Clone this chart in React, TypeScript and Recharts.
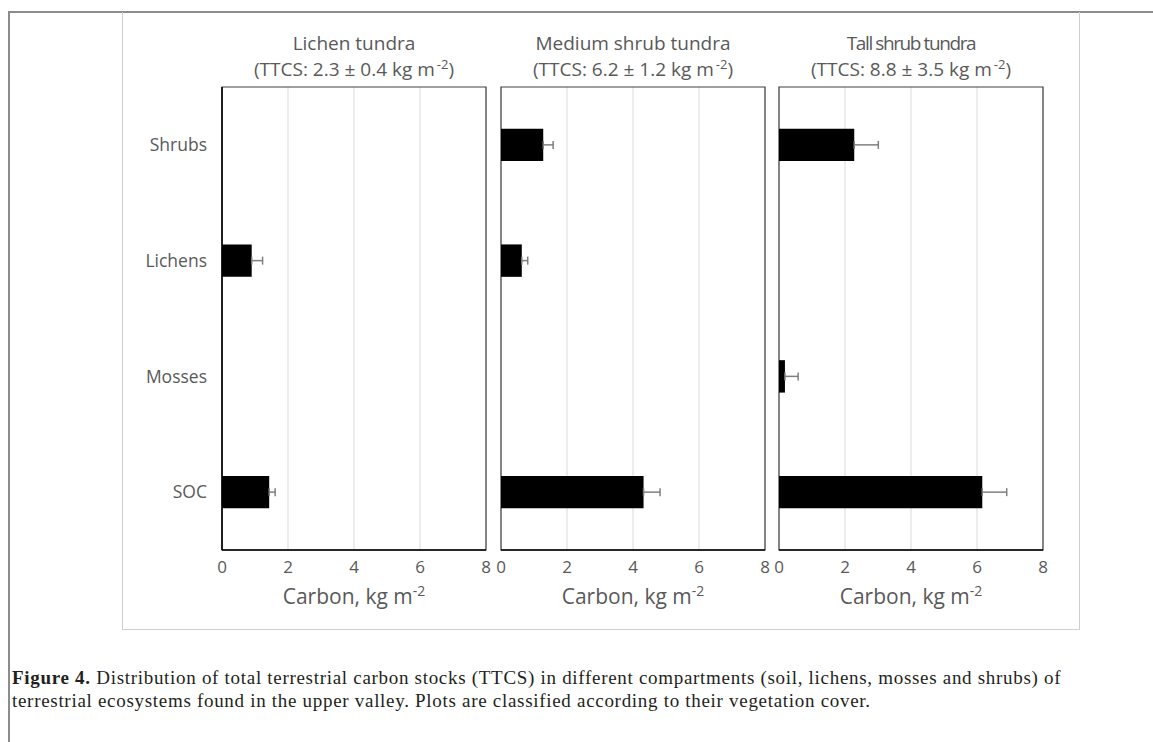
import React from 'react';
import { BarChart, Bar, XAxis, YAxis, CartesianGrid, ErrorBar, ReferenceArea } from 'recharts';

const categories = ['Shrubs', 'Lichens', 'Mosses', 'SOC'];

const lichenTundra = [0, 0.9, 0, 1.43];
const lichenTundraErr = [null, 0.33, null, 0.18];

const mediumShrubTundra = [1.28, 0.63, 0, 4.32];
const mediumShrubTundraErr = [0.3, 0.18, null, 0.5];

const tallShrubTundra = [2.28, 0, 0.18, 6.16];
const tallShrubTundraErr = [0.73, null, 0.4, 0.74];

const xTicks = [0, 2, 4, 6, 8];

const panelTitles = ['Lichen tundra', 'Medium shrub tundra', 'Tall shrub tundra'];
const panelTtcs = ['2.3 ± 0.4', '6.2 ± 1.2', '8.8 ± 3.5'];

const FONT = '"Open Sans", sans-serif';
const GREY_TEXT = '#595959';

const buildRows = (values: number[], errs: (number | null)[]) =>
  categories.map((name, i) => ({
    name,
    value: values[i],
    err: errs[i] != null ? [0, errs[i]] : null,
  }));

const panels = [
  { rows: buildRows(lichenTundra, lichenTundraErr), plotLeft: 222, showY: true },
  { rows: buildRows(mediumShrubTundra, mediumShrubTundraErr), plotLeft: 501, showY: false },
  { rows: buildRows(tallShrubTundra, tallShrubTundraErr), plotLeft: 779, showY: false },
];

const PLOT_W = 264;
const PLOT_TOP = 87;
const CHART_H = 629;
const X_AXIS_H = 70;
const M_BOTTOM = CHART_H - 550 - X_AXIS_H;
const M_SIDE = 6;

function Panel({ rows, plotLeft, showY, idx }: any) {
  const yWidth = showY ? 100 : 0;
  const left = plotLeft - yWidth - M_SIDE;
  const width = yWidth + M_SIDE * 2 + PLOT_W;
  const center = plotLeft + PLOT_W / 2;

  return (
    <>
      <div
        style={{
          position: 'absolute',
          left: center - 150,
          width: 300,
          top: 30,
          textAlign: 'center',
          fontFamily: FONT,
          fontSize: 19,
          lineHeight: '26px',
          color: GREY_TEXT,
          whiteSpace: 'nowrap',
        }}
      >
        <div style={{ letterSpacing: idx === 2 ? -1.4 : 0 }}>{panelTitles[idx]}</div>
        <div>
          (TTCS: {panelTtcs[idx]} kg m
          <span style={{ fontSize: 13, verticalAlign: 'super', lineHeight: 0, marginLeft: 2 }}>-2</span>)
        </div>
      </div>

      <div style={{ position: 'absolute', left, top: 0 }}>
        <BarChart
          width={width}
          height={CHART_H}
          data={rows}
          layout="vertical"
          margin={{ top: PLOT_TOP, right: M_SIDE, bottom: M_BOTTOM, left: M_SIDE }}
          barCategoryGap="64%"
        >
          <CartesianGrid horizontal={false} stroke="#d9d9d9" />
          <XAxis
            type="number"
            domain={[0, 8]}
            ticks={xTicks}
            height={X_AXIS_H}
            tickLine={false}
            tickSize={8}
            tickMargin={3}
            axisLine={{ stroke: '#000', strokeWidth: 1.5 }}
            tick={{ fill: GREY_TEXT, fontSize: 17, fontFamily: FONT }}
            allowDataOverflow
          />
          <YAxis
            type="category"
            dataKey="name"
            width={yWidth}
            tickLine={false}
            tick={showY ? { fill: GREY_TEXT, fontSize: 17.5, fontFamily: FONT } : false}
            tickSize={8}
            tickMargin={7}
            axisLine={{ stroke: '#000', strokeWidth: 1.5 }}
          />
          <ReferenceArea x1={0} x2={8} fill="none" stroke="#404040" strokeWidth={1.2} />
          <Bar dataKey="value" fill="#000" isAnimationActive={false}>
            <ErrorBar dataKey="err" direction="x" width={4} stroke="#7f7f7f" strokeWidth={1.5} isAnimationActive={false} />
          </Bar>
        </BarChart>
      </div>

      <div
        style={{
          position: 'absolute',
          left: center - 150,
          width: 300,
          top: 584,
          textAlign: 'center',
          fontFamily: FONT,
          fontSize: 21,
          lineHeight: '25px',
          color: GREY_TEXT,
          whiteSpace: 'nowrap',
        }}
      >
        Carbon, kg m
        <span style={{ fontSize: 14, verticalAlign: 'super', lineHeight: 0 }}>-2</span>
      </div>
    </>
  );
}

export default function App() {
  return (
    <div
      style={{
        position: 'absolute',
        left: 0,
        top: 0,
        width: 1153,
        height: 742,
        background: '#fff',
        overflow: 'hidden',
      }}
    >
      {/* page frame */}
      <div style={{ position: 'absolute', left: 8, top: 11, width: 1153, height: 2, background: '#8c8c8c' }} />
      <div style={{ position: 'absolute', left: 8, top: 11, width: 2, height: 742, background: '#8c8c8c' }} />
      {/* chart area box */}
      <div
        style={{
          position: 'absolute',
          left: 122,
          top: 12,
          width: 956,
          height: 617,
          border: '1px solid #d0d0d0',
          borderTop: 'none',
        }}
      />

      {panels.map((p, i) => (
        <Panel key={i} idx={i} rows={p.rows} plotLeft={p.plotLeft} showY={p.showY} />
      ))}

      <div
        style={{
          position: 'absolute',
          left: 12,
          top: 666,
          fontFamily: '"Liberation Serif", serif',
          fontSize: 19,
          letterSpacing: 0.7,
          lineHeight: '23px',
          color: '#231f20',
          whiteSpace: 'nowrap',
        }}
      >
        <div>
          <b>Figure 4.</b> Distribution of total terrestrial carbon stocks (TTCS) in different compartments (soil, lichens, mosses and shrubs) of
        </div>
        <div>terrestrial ecosystems found in the upper valley. Plots are classified according to their vegetation cover.</div>
      </div>
    </div>
  );
}
